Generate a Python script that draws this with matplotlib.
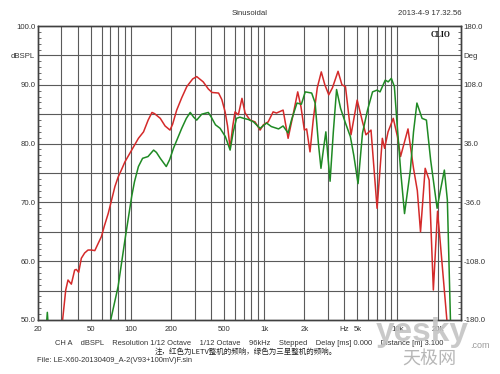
import matplotlib
matplotlib.use("Agg")
import matplotlib.pyplot as plt
from matplotlib.ticker import MultipleLocator, FixedLocator, NullFormatter

# ---- data ----
red_freq = [30.2, 30.6, 32.3, 33.6, 35.6, 37.7, 38.8, 40.4, 42.3, 44.8, 47.5, 50.4, 53.4, 56, 59.9,
            63, 67.3, 71, 75.6, 79.9, 84.5, 89.9, 101, 113.5, 124, 134.3, 143.5, 150, 165.6, 180,
            196, 205, 220, 240, 262, 290, 311, 348, 380, 405, 454, 480, 508, 530, 554, 580, 603,
            639, 680, 718, 782, 852, 930, 984, 1070, 1165, 1235, 1385, 1510, 1645, 1783, 1885,
            2000, 2080, 2205, 2330, 2500, 2680, 2850, 3050, 3250, 3580, 3830, 4070, 4480, 4985,
            5465, 5800, 6330, 7030, 7700, 8010, 8500, 9300, 10000, 10550, 12000, 13200, 14100,
            14900, 16150, 17300, 18600, 20000, 21000, 23500, 24000]
red_db = [48, 50, 55.1, 56.8, 56.1, 58.5, 58.6, 58.1, 60.5, 61.4, 61.9, 61.9, 61.8, 62.8, 64.2,
          66, 68.1, 70.2, 72.7, 74.3, 75.5, 76.9, 78.9, 80.9, 82.0, 84.0, 85.3, 85.1, 84.3, 83.0,
          82.3, 83.3, 85.7, 87.8, 89.7, 91.0, 91.4, 90.5, 89.3, 88.7, 88.6, 87.5, 85.4, 83, 79.2, 83, 85.4,
          84.9, 87.7, 85.2, 84.0, 83.7, 82.3, 83.2, 83.7, 85.4, 85.2, 85.7, 80.9, 84.9, 88.8, 86.3,
          82.3, 82.5, 78.6, 84, 89.5, 92.2, 90.0, 88.3, 89.5, 92.3, 90.0, 89.7, 81.5, 87.4,
          83.7, 81.5, 82.3, 69.0, 80.9, 79.2, 82, 84.3, 81.2, 77.8, 82.5, 75.8, 72,
          65.0, 75.8, 73.8, 55.1, 68.5, 63, 50, 47]

green_freq = [20, 22.8, 23.5, 24.2, 26, 60, 70.3, 79.9, 89.9, 101, 106, 113.5, 122, 134, 147.6, 155,
              165.6, 183.7, 195, 208, 240, 260, 278, 295, 311, 339, 380, 400, 430, 466, 510, 554,
              585, 619, 656, 700, 760, 830, 930, 1040, 1130, 1280, 1385, 1510, 1600, 1760, 1900,
              2030, 2270, 2410, 2550, 2665, 2780, 2900, 3000, 3120, 3300, 3490, 3740, 4070, 4430,
              4700, 5060, 5465, 5960, 6500, 7030, 7400, 8100, 8520, 9000, 9480, 9970, 10600,
              11300, 12500, 13200, 14000, 15300, 16500, 17750, 19850, 21000, 22500, 23700, 25000, 25300]
green_db = [44, 47, 51.3, 47, 44, 44, 50, 55.7, 63.6, 71.0, 73.5, 76.1, 77.5, 77.8, 78.9, 78.5,
            77.5, 76.1, 77.3, 79.2, 82.6, 84.3, 85.3, 84.5, 84.0, 85.0, 85.3, 84.5, 83.2, 82.6, 81.2, 78.9,
            82, 84.3, 84.5, 84.3, 84.1, 83.7, 82.6, 83.5, 82.9, 82.5, 83.0, 81.8, 84, 86.9, 86.7,
            88.8, 88.6, 86.9, 80, 75.8, 79, 82.0, 78, 73.6, 82, 89.2, 86.0, 83.5, 81.2,
            78, 73.2, 81.8, 85.7, 88.8, 89.1, 88.8, 90.8, 90.5, 91.1, 89.7, 82.9, 75,
            68.1, 75.5, 82, 86.9, 84.3, 84.0, 77.2, 69.0, 72, 75.5, 70.4, 50, 47]

x_tick_pos = [20, 50, 100, 200, 500, 1000, 2000, 4000, 5000, 10000, 20000]
x_tick_lab = ['20', '50', '100', '200', '500', '1k', '2k', 'Hz', '5k', '10k', '20k']
x_grid = [30, 40, 50, 60, 70, 80, 90, 100, 200, 300, 400, 500, 600, 700, 800, 900,
          1000, 2000, 3000, 4000, 5000, 6000, 7000, 8000, 9000, 10000, 20000]
y_tick_pos = [100, 95, 90, 80, 70, 60, 50]
y_left_lab = ['100.0', 'dBSPL', '90.0', '80.0', '70.0', '60.0', '50.0']
y_right_lab = ['180.0', 'Deg', '108.0', '36.0', '-36.0', '-108.0', '-180.0']

plt.rcParams['font.family'] = ['Liberation Sans', 'Noto Sans CJK SC', 'DejaVu Sans']

fig = plt.figure(figsize=(5.0, 3.74), dpi=100)
fig.patch.set_facecolor('white')
ax = fig.add_axes([0.076, 0.1444, 0.846, 0.786])
ax.set_xscale('log')
ax.set_xlim(20, 30000)
ax.set_ylim(50, 100)

gcol = '#5a5a5a'
for xv in x_grid:
    ax.axvline(xv, color=gcol, lw=0.8, zorder=1)
for yv in range(55, 100, 5):
    ax.axhline(yv, color=gcol, lw=0.8, zorder=1)

ax.plot(red_freq, red_db, color='#d42a2a', lw=1.1, zorder=3)
ax.plot(green_freq, green_db, color='#1f8a24', lw=1.1, zorder=3)

ax.xaxis.set_major_locator(FixedLocator(x_tick_pos))
ax.set_xticklabels(x_tick_lab)
ax.xaxis.set_minor_formatter(NullFormatter())
ax.xaxis.set_minor_locator(FixedLocator([]))
ax.set_yticks(y_tick_pos)
ax.set_yticklabels(y_left_lab)
ax.yaxis.set_minor_locator(MultipleLocator(1))
ax.tick_params(axis='x', length=0, pad=4, labelsize=5.6, labelcolor='#333333')
ax.tick_params(axis='y', which='major', length=0, pad=2, labelsize=5.6, labelcolor='#333333')
ax.tick_params(axis='y', which='minor', direction='in', length=2.5, width=0.6, color='#555555')

ax2 = ax.twinx()
ax2.set_ylim(50, 100)
ax2.set_yticks(y_tick_pos)
ax2.set_yticklabels(y_right_lab)
ax2.yaxis.set_minor_locator(MultipleLocator(1))
ax2.tick_params(axis='y', which='major', length=0, pad=2, labelsize=5.6, labelcolor='#333333')
ax2.tick_params(axis='y', which='minor', direction='in', length=2.5, width=0.6, color='#555555')

for a in (ax, ax2):
    for s in a.spines.values():
        s.set_color('#404040')
        s.set_linewidth(1.0)

ax.text(0.975, 0.983, 'CLIO', transform=ax.transAxes, ha='right', va='top',
        fontsize=5.6, fontweight='bold', family='Liberation Serif', color='#111111', zorder=5)

fig.text(0.5, 1 - 13.5 / 374, 'Sinusoidal', ha='center', va='center', fontsize=5.6, color='#333333')
fig.text(0.922, 1 - 13.5 / 374, '2013-4-9 17.32.56', ha='right', va='center', fontsize=5.6, color='#333333')

fig.text(55 / 500, 1 - 343.5 / 374,
         'CH A    dBSPL    Resolution 1/12 Octave    1/12 Octave    96kHz    Stepped    Delay [ms] 0.000    Distance [m] 3.100',
         ha='left', va='center', fontsize=5.4, color='#333333')
fig.text(155 / 500, 1 - 351.5 / 374, '注，红色为LETV整机的频响，绿色为三星整机的频响。',
         ha='left', va='center', fontsize=5.4, color='#222222',
         family=['Noto Sans CJK SC', 'DejaVu Sans'])
fig.text(37 / 500, 1 - 360.5 / 374, 'File: LE-X60-20130409_A-2(V93+100mV)F.sin',
         ha='left', va='center', fontsize=5.4, color='#333333')

# watermark
fig.text(422 / 500, 1 - 333 / 374, 'yesky', ha='center', va='center', fontsize=24,
         fontweight='bold', color='#c4c4c4', alpha=0.9, zorder=10)
fig.text(480 / 500, 1 - 345 / 374, '.com', ha='center', va='center', fontsize=6.5,
         color='#9a9a9a', zorder=10)
fig.text(429 / 500, 1 - 360 / 374, '天极网', ha='center', va='center', fontsize=13,
         color='#b0b0b0', alpha=0.9, zorder=10, family=['Noto Sans CJK SC', 'DejaVu Sans'])

fig.savefig('out.png', dpi=100, facecolor='white')
